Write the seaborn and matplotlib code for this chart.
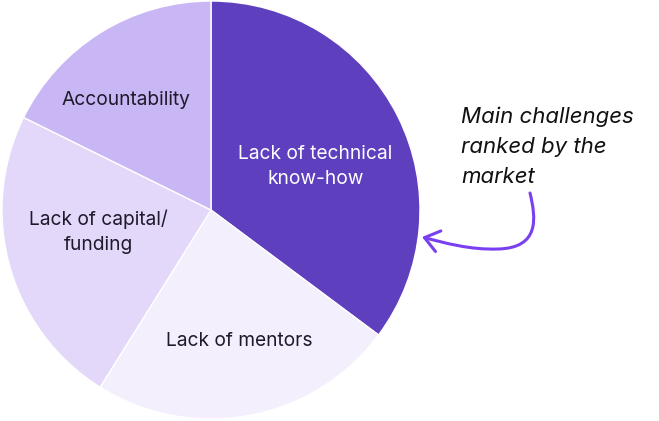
import seaborn as sns
import matplotlib.pyplot as plt
from matplotlib.patches import FancyArrowPatch
from matplotlib.path import Path

# market challenges, clockwise from 12 o'clock
labels = ["Lack of technical\nknow-how", "Lack of mentors", "Lack of capital/\nfunding", "Accountability"]
shares = [35.2, 23.7, 23.4, 17.7]
colors = ["#5E3FBE", "#F3EFFD", "#E3D8FA", "#C9B6F4"]
text_colors = ["white", "#1E1A2B", "#1E1A2B", "#1E1A2B"]
label_pos = [(0.50, 0.21), (0.135, -0.625), (-0.54, -0.105), (-0.408, 0.525)]

sns.set_theme(style="white")
plt.rcParams['font.family'] = ['Inter', 'DejaVu Sans']

W, H = 659, 421
fig = plt.figure(figsize=(W / 100, H / 100), dpi=100, facecolor='white')

# pie axes, radius ~209 px centred at (211, 210)
ax = fig.add_axes([2 / W, 2 / H, 418 / W, 418 / H])
ax.pie(shares, colors=sns.color_palette(colors), startangle=90, counterclock=False,
       radius=1, wedgeprops=dict(edgecolor='white', linewidth=1))
ax.set_xlim(-1, 1)
ax.set_ylim(-1, 1)
ax.set_aspect('equal')
ax.axis('off')

for lab, (x, y), c in zip(labels, label_pos, text_colors):
    ax.text(x, y, lab, ha='center', va='center', color=c, fontsize=13.8, linespacing=1.5)

# overlay in pixel coords for the note and arrow
ov = fig.add_axes([0, 0, 1, 1])
ov.set_xlim(0, W)
ov.set_ylim(H, 0)
ov.axis('off')
ov.patch.set_alpha(0)

ov.text(461, 147, "Main challenges\nranked by the\nmarket", ha='left', va='center',
        fontsize=16, style='italic', color='#111111', linespacing=1.62)

verts = [(530, 193), (536, 218), (540, 248), (498, 249), (470, 250), (445, 243), (422, 237)]
codes = [Path.MOVETO, Path.CURVE4, Path.CURVE4, Path.CURVE4, Path.CURVE4, Path.CURVE4, Path.CURVE4]
arrow = FancyArrowPatch(path=Path(verts, codes), arrowstyle='->,head_length=6,head_width=4.5',
                        color='#7B3FF2', linewidth=2.2, mutation_scale=1.7)
ov.add_patch(arrow)

fig.savefig("out.png", dpi=100, facecolor='white')
plt.close(fig)
